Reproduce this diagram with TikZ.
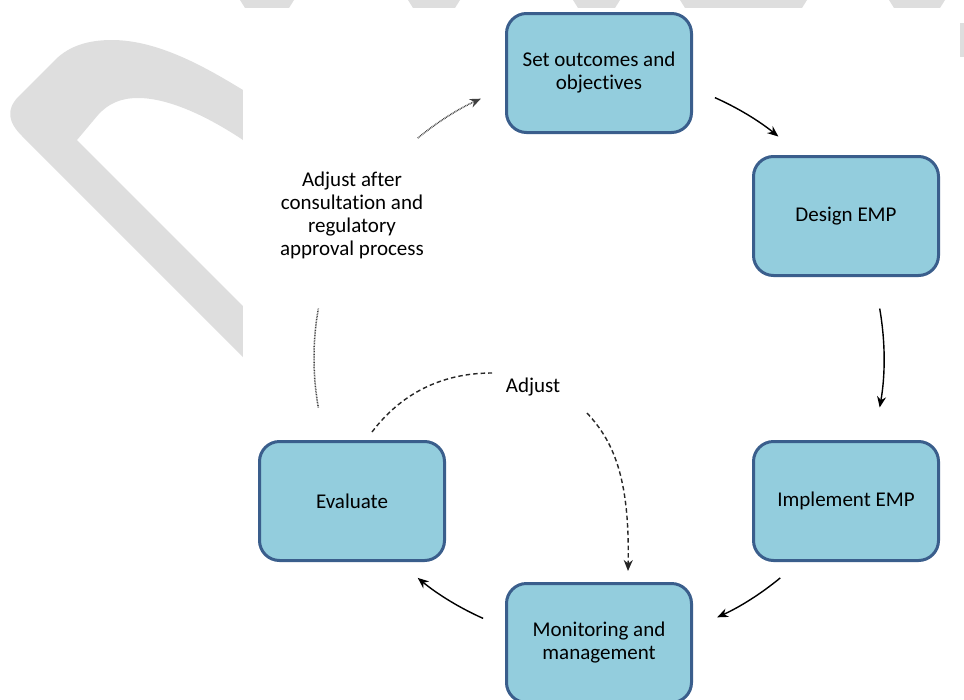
\documentclass[tikz,border=0pt]{standalone}
\usepackage{fontspec}
\setmainfont{Carlito}[Ligatures={NoCommon}]
\usetikzlibrary{arrows.meta,calc}
\definecolor{boxfill}{HTML}{93CDDD}
\definecolor{boxline}{HTML}{3A5E8C}
\definecolor{wmgray}{HTML}{DEDEDE}
\begin{document}
\begin{tikzpicture}[x=1pt,y=-1pt,
  stage/.style={draw=boxline, line width=3pt, fill=boxfill, rounded corners=20pt,
    minimum width=185pt, minimum height=119pt, align=center, inner sep=0pt,
    font=\fontsize{21}{23}\selectfont, text=black},
  lbl/.style={align=center, inner sep=0pt, font=\fontsize{21}{23}\selectfont, text=black},
  tip/.style={-{Stealth[length=11pt,width=9pt]}},
  cyc/.style={tip, line width=1.4pt},
  dotline/.style={line width=1.5pt, black!75, dash pattern=on 0.8pt off 0.8pt},
  adj/.style={line width=1.4pt, black!85, dash pattern=on 4.5pt off 3pt},
  wm/.style={fill=wmgray, draw=none}]
\clip (0,0) rectangle (964,699);
% watermark fragments
\fill[wm] (243,357) -- (22,136) .. controls (8,122) and (6,110) .. (18,97) -- (55,60)
  .. controls (70,45) and (90,40) .. (112,40) .. controls (160,40) and (210,70) .. (243,90)
  -- (243,140) .. controls (210,118) and (170,98) .. (138,98)
  .. controls (120,98) and (108,104) .. (98,115) -- (77,140) -- (243,306) -- cycle;
\fill[wm] (240,0) -- (294,0) -- (289,8) -- (245,8) -- cycle;
\fill[wm] (408,0) -- (460,0) -- (455,8) -- (413,8) -- cycle;
\fill[wm] (573,0) -- (620,0) -- (615,8) -- (578,8) -- cycle;
\fill[wm] (680,0) -- (807,0) -- (802,8) -- (685,8) -- cycle;
\fill[wm] (889,0) -- (945,0) -- (940,8) -- (894,8) -- cycle;
\fill[wm] (960,23) rectangle (964,57);
\fill[white] (243,8) rectangle (960,699);
% stages
\node[stage] (set) at (599,73) {Set outcomes and\\objectives};
\node[stage] (design) at (846,216) {Design EMP};
\node[stage] (impl) at (846,501) {Implement EMP};
\node[stage] (mon) at (599,643) {Monitoring and\\management};
\node[stage] (eval) at (352,501) {Evaluate};
\node[lbl] (cons) at (352,215) {Adjust after\\consultation and\\regulatory\\approval process};
\node[lbl] (adjlbl) at (533,387) {Adjust};
% cycle arcs
\coordinate (C) at (599,358);
\coordinate (a0) at ($(C)+(66:285pt)$);
\coordinate (b0) at ($(C)+(10:285pt)$);
\coordinate (c0) at ($(C)+(-50.5:285pt)$);
\coordinate (d0) at ($(C)+(-114:285pt)$);
\coordinate (e0) at ($(C)+(190:285pt)$);
\coordinate (f0) at ($(C)+(129.5:285pt)$);
\draw[cyc] (a0) arc[start angle=66, end angle=51, radius=285pt];
\draw[cyc] (b0) arc[start angle=10, end angle=-10, radius=285pt];
\draw[cyc] (c0) arc[start angle=-50.5, end angle=-65.5, radius=285pt];
\draw[cyc] (d0) arc[start angle=-114, end angle=-129.5, radius=285pt];
\draw[dotline] (e0) arc[start angle=190, end angle=170, radius=285pt];
\draw[dotline, tip] (f0) arc[start angle=129.5, end angle=114.5, radius=285pt];
% adjust loop
\coordinate (g1) at (372,432);
\coordinate (g2) at (492,373);
\coordinate (g3) at (587,413);
\coordinate (g4) at (628,571);
\draw[adj] (g1) .. controls (400,395) and (440,373) .. (g2);
\draw[adj, tip] (g3) .. controls (612,440) and (630,475) .. (g4);
\end{tikzpicture}
\end{document}
